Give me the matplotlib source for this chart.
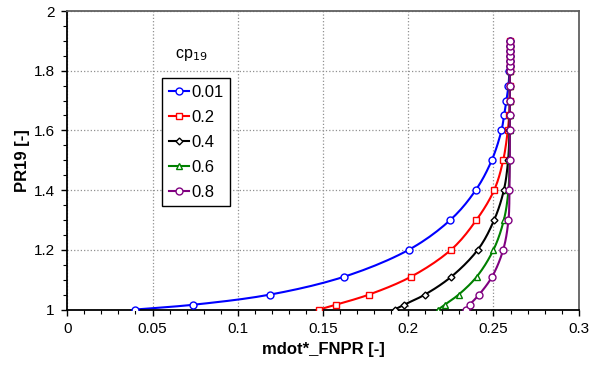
import numpy as np
import matplotlib
matplotlib.use("Agg")
import matplotlib.pyplot as plt

plt.rcParams['font.family'] = ['Liberation Sans', 'DejaVu Sans']

# pressure ratio points (same for every curve)
pr = [1.0, 1.016, 1.05, 1.11, 1.2, 1.3, 1.4, 1.5, 1.6, 1.65, 1.7, 1.75,
      1.8, 1.817, 1.833, 1.85, 1.867, 1.883, 1.9]

cp_labels = ['0.01', '0.2', '0.4', '0.6', '0.8']

mdot_001 = [0.040, 0.074, 0.119, 0.1625, 0.2003, 0.2247, 0.2396, 0.2490, 0.2547,
            0.2562, 0.2576, 0.2588, 0.2594, 0.2596, 0.2596, 0.2596, 0.2596, 0.2596, 0.2596]
mdot_02 = [0.1478, 0.1576, 0.1770, 0.2017, 0.2251, 0.2400, 0.2504, 0.2557, 0.2584,
           0.2592, 0.2596, 0.2596, 0.2596, 0.2596, 0.2596, 0.2596, 0.2596, 0.2596, 0.2596]
mdot_04 = [0.1920, 0.1976, 0.2098, 0.2253, 0.2408, 0.2504, 0.2561, 0.2586, 0.2594,
           0.2596, 0.2596, 0.2596, 0.2596, 0.2596, 0.2596, 0.2596, 0.2596, 0.2596, 0.2596]
mdot_06 = [0.2176, 0.2214, 0.2296, 0.2402, 0.2500, 0.2561, 0.2588, 0.2594, 0.2596,
           0.2596, 0.2596, 0.2596, 0.2596, 0.2596, 0.2596, 0.2596, 0.2596, 0.2596, 0.2596]
mdot_08 = [0.2337, 0.2360, 0.2416, 0.2492, 0.2557, 0.2588, 0.2594, 0.2596, 0.2596,
           0.2596, 0.2596, 0.2596, 0.2596, 0.2596, 0.2596, 0.2596, 0.2596, 0.2596, 0.2596]

series = [mdot_001, mdot_02, mdot_04, mdot_06, mdot_08]
colors = ['#0000FF', '#FF0000', '#000000', '#008000', '#800080']
markers = ['o', 's', 'D', '^', 'o']
msizes = [5, 5, 3.5, 5, 5]


def smooth(xs, ys, n=12):
    # centripetal catmull-rom through the points (excel style smoothed line)
    p = np.column_stack([np.asarray(xs) / 0.3, np.asarray(ys)])
    keep = [0]
    for i in range(1, len(p)):
        if np.hypot(*(p[i] - p[keep[-1]])) > 1e-6:
            keep.append(i)
    p = p[keep]
    p = np.vstack([2 * p[0] - p[1], p, 2 * p[-1] - p[-2]])
    out = []
    for i in range(1, len(p) - 2):
        P0, P1, P2, P3 = p[i - 1], p[i], p[i + 1], p[i + 2]
        t0 = 0.0
        t1 = t0 + np.hypot(*(P1 - P0)) ** 0.5
        t2 = t1 + np.hypot(*(P2 - P1)) ** 0.5
        t3 = t2 + np.hypot(*(P3 - P2)) ** 0.5
        t = np.linspace(t1, t2, n)[:, None]
        A1 = (t1 - t) / (t1 - t0) * P0 + (t - t0) / (t1 - t0) * P1
        A2 = (t2 - t) / (t2 - t1) * P1 + (t - t1) / (t2 - t1) * P2
        A3 = (t3 - t) / (t3 - t2) * P2 + (t - t2) / (t3 - t2) * P3
        B1 = (t2 - t) / (t2 - t0) * A1 + (t - t0) / (t2 - t0) * A2
        B2 = (t3 - t) / (t3 - t1) * A2 + (t - t1) / (t3 - t1) * A3
        C = (t2 - t) / (t2 - t1) * B1 + (t - t1) / (t2 - t1) * B2
        out.append(C)
    out = np.vstack(out)
    return out[:, 0] * 0.3, out[:, 1]


fig = plt.figure(figsize=(5.99, 3.66), dpi=100)
ax = fig.add_axes([67.3/599, 1-309.5/366, (578.7-67.3)/599, (309.5-11)/366])

for y, c, m, ms, lab in zip(series, colors, markers, msizes, cp_labels):
    sx, sy = smooth(y, pr)
    ax.plot(sx, sy, color=c, lw=1.5, zorder=2)
    ax.plot(y, pr, ls='none', marker=m, ms=ms, mfc='white', mec=c, mew=1.0, zorder=3)
    # proxy for the legend (line + marker)
    ax.plot([], [], color=c, lw=1.5, marker=m, ms=ms, mfc='white', mec=c,
            mew=1.0, label=lab)

ax.set_xlim(0, 0.3)
ax.set_ylim(1, 2)
ax.set_xticks(np.arange(0, 0.301, 0.05))
ax.set_xticklabels(['0', '0.05', '0.1', '0.15', '0.2', '0.25', '0.3'])
ax.set_yticks(np.arange(1, 2.01, 0.2))
ax.set_yticklabels(['1', '1.2', '1.4', '1.6', '1.8', '2'])
ax.set_xticks(np.arange(0, 0.301, 0.01), minor=True)
ax.set_yticks(np.arange(1, 2.001, 0.05), minor=True)
ax.tick_params(which='major', direction='out', length=4, width=1, labelsize=11, pad=5)
ax.tick_params(which='minor', direction='out', length=3, width=0.8)
ax.grid(True, which='major', color='#909090', ls=':', lw=0.9)

for s in ['left', 'bottom']:
    ax.spines[s].set_linewidth(1.3)
    ax.spines[s].set_color('black')
for s in ['top', 'right']:
    ax.spines[s].set_linewidth(1.3)
    ax.spines[s].set_color('#606060')

ax.set_xlabel('mdot*_FNPR [-]', fontsize=12, fontweight='bold', labelpad=4)
ax.set_ylabel('PR19 [-]', fontsize=12, fontweight='bold', labelpad=3)

leg = ax.legend(loc='upper left', bbox_to_anchor=(162/599, 1-78/366),
                bbox_transform=fig.transFigure, fontsize=12, frameon=True,
                fancybox=False, handlelength=1.25, handletextpad=0.1,
                labelspacing=0.6, borderpad=0.4, borderaxespad=0)
leg.get_frame().set_edgecolor('black')
leg.get_frame().set_linewidth(1.0)
leg.get_frame().set_alpha(1)

fig.text(175/599, 1-55/366, 'cp$_{19}$', fontsize=11.5, va='center', ha='left')

fig.savefig('out.png', dpi=100)
